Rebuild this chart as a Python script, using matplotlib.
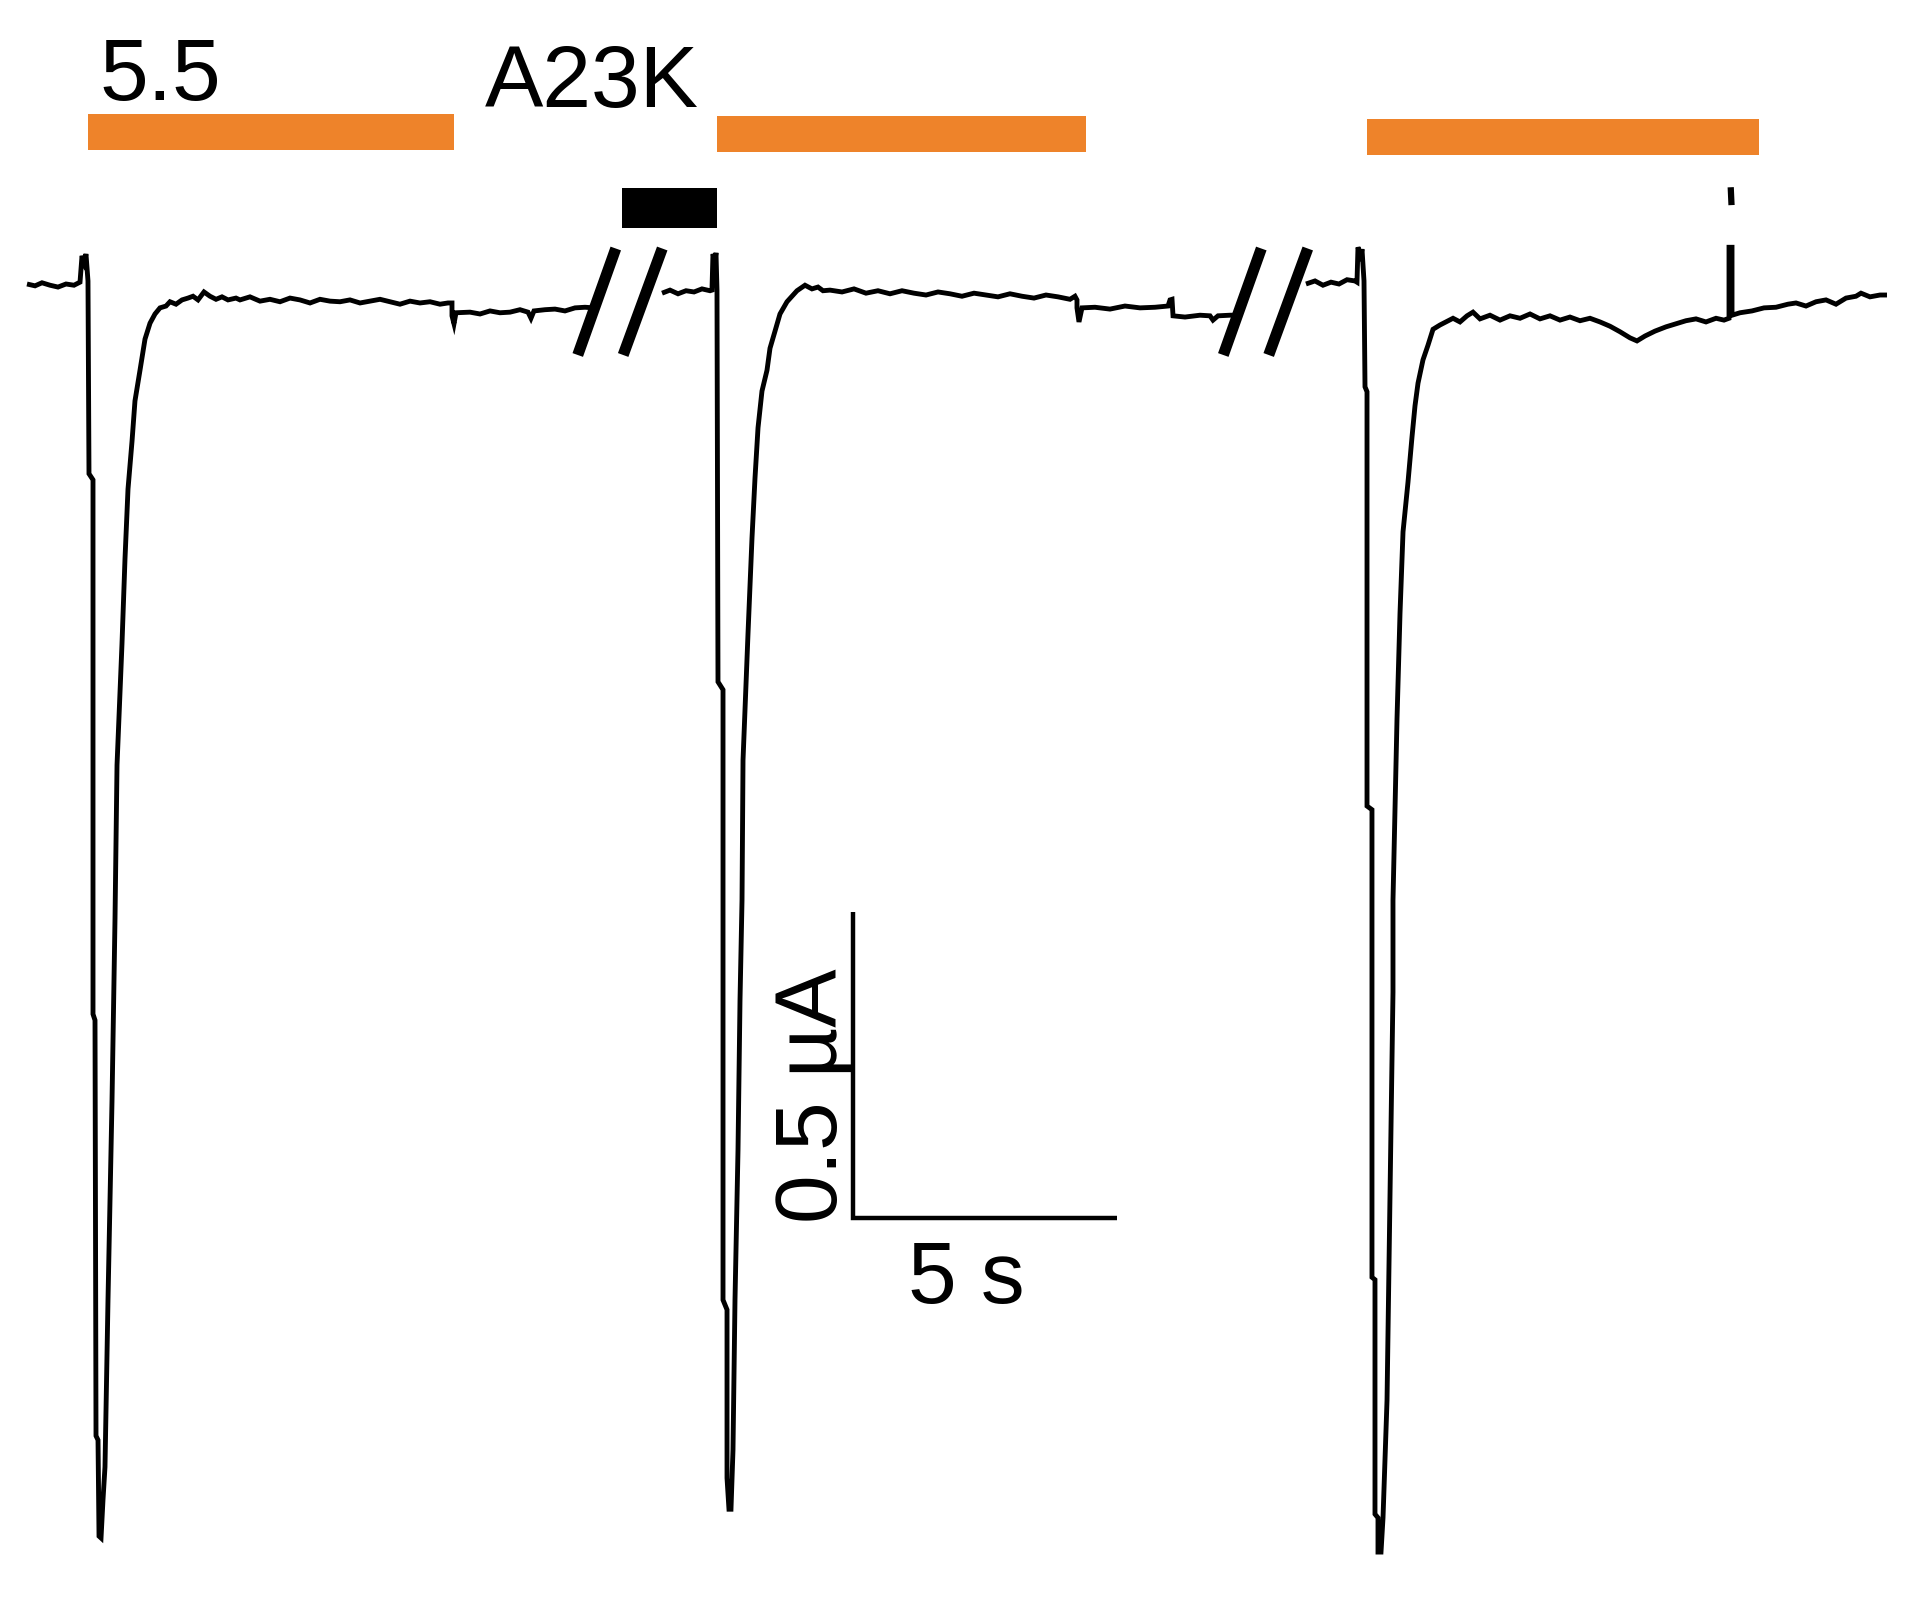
import matplotlib
matplotlib.use("Agg")
import matplotlib.pyplot as plt

plt.rcParams['font.family'] = ['Liberation Sans', 'DejaVu Sans']

# ---------------- data (time in s, current in uA) ----------------
seg1_t = [0.000, 0.152, 0.284, 0.436, 0.587, 0.739, 0.890, 1.004, 1.042, 1.080, 1.117, 1.155,
          1.174, 1.250, 1.250, 1.288, 1.307, 1.345, 1.364, 1.402,
          1.439, 1.477, 1.534, 1.610, 1.667, 1.705, 1.799, 1.856, 1.913, 1.989, 2.045, 2.140, 2.235,
          2.330, 2.424, 2.519, 2.633, 2.708, 2.822, 2.936, 3.049, 3.144, 3.239, 3.352, 3.466, 3.580,
          3.693, 3.807, 3.958,
          4.034, 4.223, 4.413, 4.602, 4.792, 4.981, 5.170, 5.360, 5.549, 5.739, 5.928, 6.117, 6.307,
          6.496, 6.686, 6.875, 7.064, 7.254, 7.443, 7.633, 7.822, 7.973,
          8.049, 8.049, 8.087, 8.125, 8.390, 8.580, 8.769, 8.958, 9.148, 9.337, 9.489, 9.545, 9.602,
          9.811, 10.000, 10.189, 10.379, 10.568, 10.739]
seg1_i = [0.000, -0.003, 0.002, -0.002, -0.005, 0.000, -0.002, 0.003, 0.046, 0.036, 0.049, 0.005,
          -0.310, -0.320, -1.193, -1.203, -1.882, -1.889, -2.046, -2.049,
          -1.987, -1.933, -1.660, -1.335, -1.036, -0.786, -0.588, -0.449, -0.335, -0.257, -0.191,
          -0.141, -0.090, -0.064, -0.049, -0.039, -0.036, -0.029, -0.033, -0.026, -0.023, -0.020,
          -0.026, -0.013, -0.020, -0.025, -0.021, -0.026, -0.023,
          -0.026, -0.021, -0.028, -0.025, -0.029, -0.023, -0.026, -0.031, -0.025, -0.028, -0.029,
          -0.026, -0.031, -0.028, -0.025, -0.029, -0.033, -0.028, -0.031, -0.029, -0.033, -0.031,
          -0.031, -0.052, -0.065, -0.047, -0.046, -0.049, -0.044, -0.047, -0.046, -0.042, -0.046,
          -0.056, -0.044, -0.042, -0.041, -0.044, -0.039, -0.038, -0.039]

seg2_t = [12.027, 12.178, 12.330, 12.481, 12.633, 12.784, 12.936, 12.973, 12.992, 13.030, 13.049, 13.068,
          13.087, 13.182, 13.182, 13.258, 13.258, 13.295, 13.333,
          13.371, 13.409, 13.466, 13.504, 13.542, 13.561, 13.655, 13.731, 13.788, 13.845, 13.920,
          14.015, 14.072, 14.167, 14.261, 14.394, 14.583, 14.735, 14.867, 14.981, 15.076,
          15.208, 15.436, 15.663, 15.890, 16.117, 16.345, 16.572, 16.799, 17.027, 17.254, 17.481,
          17.708, 17.936, 18.163, 18.390, 18.617, 18.845, 19.072, 19.299, 19.527, 19.754, 19.848,
          19.886, 19.886, 19.924, 19.981, 20.227, 20.511, 20.795, 21.080, 21.364, 21.610, 21.648,
          21.686, 21.705, 21.932, 22.216, 22.405, 22.462, 22.557, 22.784, 22.898]
seg2_i = [-0.015, -0.010, -0.016, -0.011, -0.013, -0.008, -0.011, -0.010, 0.049, 0.039, 0.051, -0.010,
          -0.650, -0.663, -1.660, -1.676, -1.951, -2.002, -2.002,
          -1.905, -1.660, -1.415, -1.170, -1.007, -0.778, -0.572, -0.415, -0.317, -0.235, -0.175,
          -0.141, -0.105, -0.077, -0.049, -0.029, -0.011, -0.002, -0.008, -0.005, -0.011,
          -0.010, -0.013, -0.008, -0.015, -0.011, -0.016, -0.011, -0.015, -0.018, -0.013, -0.016,
          -0.020, -0.015, -0.018, -0.021, -0.016, -0.020, -0.023, -0.018, -0.021, -0.025, -0.020,
          -0.026, -0.039, -0.062, -0.039, -0.038, -0.041, -0.036, -0.039, -0.038, -0.036, -0.026,
          -0.025, -0.052, -0.054, -0.051, -0.052, -0.059, -0.052, -0.051, -0.051]

seg3_t = [24.223, 24.394, 24.545, 24.697, 24.848, 25.000, 25.152, 25.189, 25.208, 25.265, 25.284, 25.322,
          25.341, 25.379, 25.379, 25.473, 25.473, 25.530, 25.530, 25.587, 25.587, 25.644,
          25.682, 25.758, 25.814, 25.871, 25.871, 25.947, 26.004, 26.061, 26.155, 26.231, 26.288,
          26.345, 26.439, 26.534, 26.629, 26.761, 27.008, 27.140, 27.273, 27.386,
          27.519, 27.708, 27.898, 28.087, 28.277, 28.466, 28.655, 28.845, 29.034, 29.223,
          29.413, 29.602, 29.792, 29.981, 30.170, 30.360, 30.492, 30.644, 30.833, 31.042,
          31.231, 31.420, 31.610, 31.799, 31.989, 32.140, 32.235, 32.235, 32.292, 32.292,
          32.443, 32.670, 32.898, 33.125, 33.352, 33.504, 33.693, 33.883, 34.072, 34.261,
          34.451, 34.640, 34.735, 34.905, 35.095, 35.227]
seg3_i = [0.000, 0.005, -0.002, 0.003, 0.000, 0.007, 0.005, 0.003, 0.060, 0.047, 0.057, 0.005,
          -0.168, -0.176, -0.853, -0.859, -1.623, -1.627, -2.010, -2.016, -2.072, -2.072,
          -2.016, -1.824, -1.492, -1.157, -1.007, -0.711, -0.538, -0.405, -0.324, -0.250, -0.199,
          -0.162, -0.124, -0.100, -0.074, -0.067, -0.056, -0.062, -0.052, -0.046,
          -0.057, -0.051, -0.059, -0.052, -0.056, -0.049, -0.057, -0.052, -0.059, -0.054,
          -0.060, -0.056, -0.062, -0.069, -0.078, -0.088, -0.093, -0.085, -0.077, -0.070,
          -0.065, -0.060, -0.057, -0.062, -0.056, -0.059, -0.056, 0.060, 0.060, -0.051,
          -0.047, -0.044, -0.039, -0.038, -0.033, -0.031, -0.036, -0.029, -0.026, -0.033,
          -0.023, -0.020, -0.015, -0.021, -0.018, -0.018]

# small artifact mark above the transient in segment 3
artifact_t = [32.270, 32.280]
artifact_i = [0.153, 0.134]

# application periods (s)
ph_on = [1.155, 13.068, 25.379]
ph_off = [8.087, 20.057, 32.803]
drug_on = [11.269]
drug_off = [13.068]
ph_label = "5.5"
drug_label = "A23K"

# axis breaks (display time, s)
break_t = [11.231, 23.457]

# scale bar
scale_t = 5.0        # s
scale_i = 0.5        # uA
scale_t_label = "5 s"
scale_i_label = "0.5 µA"

# ---------------- figure ----------------
W, H, DPI = 1920, 1609, 100
fig = plt.figure(figsize=(W / DPI, H / DPI), dpi=DPI)
ax = fig.add_axes([0, 0, 1, 1])
px_per_s = 52.8
px_per_uA = 612.0
x0_px, y0_px = 27.0, 284.0
ax.set_xlim(-x0_px / px_per_s, (W - x0_px) / px_per_s)
ax.set_ylim((y0_px - H) / px_per_uA, y0_px / px_per_uA)
ax.axis('off')

TRACE_LW = 3.5
for t, i in ((seg1_t, seg1_i), (seg2_t, seg2_i), (seg3_t, seg3_i)):
    assert len(t) == len(i)
    ax.plot(t, i, color='black', lw=TRACE_LW, solid_joinstyle='miter', solid_capstyle='butt')
ax.plot(artifact_t, artifact_i, color='black', lw=4.5)

# break marks
for tc in break_t:
    for a, b in ((-0.80, -0.08), (0.06, 0.80)):
        ax.plot([tc + a, tc + b], [-0.116, 0.058], color='black', lw=8, solid_capstyle='butt')

# orange bars
ORANGE = '#EE832A'
bar_centers = [0.248, 0.245, 0.240]
bar_half = 0.0294
for on, off, yc in zip(ph_on, ph_off, bar_centers):
    ax.fill_between([on, off], yc - bar_half, yc + bar_half, color=ORANGE, lw=0)
# black drug bar
for on, off in zip(drug_on, drug_off):
    ax.fill_between([on, off], 0.0915, 0.157, color='black', lw=0)

FS = 63
ax.text(ph_on[0] + 0.21, 0.301, ph_label, fontsize=FS, ha='left', va='baseline')
ax.text(8.674, 0.289, drug_label, fontsize=FS, ha='left', va='baseline')

# scale bar
sb_t0, sb_i0 = 15.644, -1.526
ax.plot([sb_t0, sb_t0, sb_t0 + scale_t], [sb_i0 + scale_i, sb_i0, sb_i0],
        color='black', lw=3.2, solid_joinstyle='miter', solid_capstyle='butt')
ax.text(sb_t0 + scale_t * 0.43, -1.665, scale_t_label, fontsize=FS, ha='center', va='baseline')
ax.text(15.341, -1.534, scale_i_label, fontsize=FS, rotation=90, rotation_mode='anchor',
        ha='left', va='baseline')

fig.savefig('out.png', dpi=DPI)
